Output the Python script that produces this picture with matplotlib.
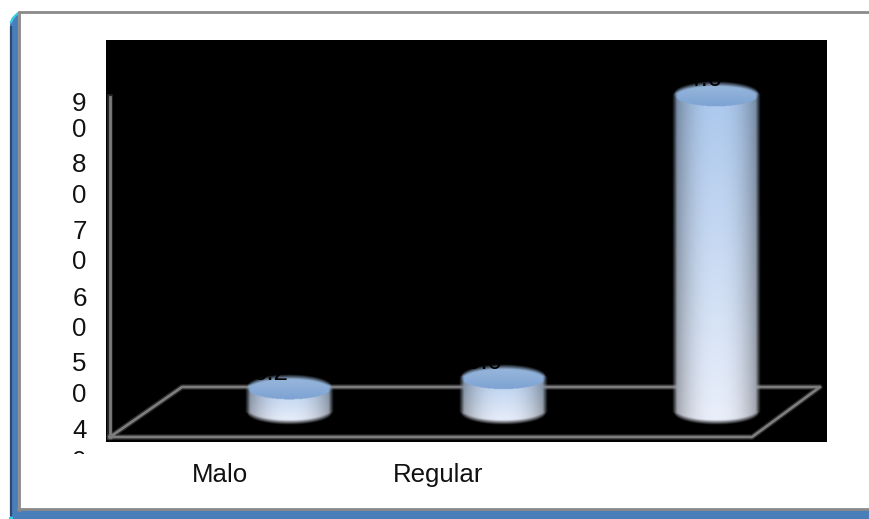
import numpy as np
import matplotlib
matplotlib.use("Agg")
import matplotlib.pyplot as plt
from matplotlib.patches import Rectangle, Polygon

plt.rcParams['font.family'] = ['Liberation Sans', 'DejaVu Sans']

# --- Chart values ---
categories = ["Malo", "Regular", ""]
values = [6.2, 9.0, 84.0]
value_labels = ["6.2", "9.0", "84.0"]
y_tick_labels = ["90", "80", "70", "60", "50", "40"]

# --- Layout (pixels, origin top left) ---
W, H = 870, 519
BOX_L, BOX_R, BOX_T, BOX_B = 106, 827, 40, 442
X0, X_STEP = 290, 213.5     # pixel centre of first cylinder, spacing
BASE_Y, Y_SCALE = 412, 3.77 # pixel row of value 0, pixels per unit
HALF_W = 42.5
RY = 11.5
BLUE = "#4a7ebb"
GREY = "#8a8a8a"
FLOOR = "#7c7c7c"
FONT_SIZE = 18.6
digit_rows = [(101.7, 128), (163, 194), (230, 260), (296.7, 326.7), (362, 393), (429, 460)]
category_x = [220, 438, 0]

fig = plt.figure(figsize=(W / 100, H / 100), dpi=100, facecolor="white")

# Whole page axes in pixels, holds the frame and the labels outside the plot
page = fig.add_axes([0, 0, 1, 1], zorder=0)
page.set_xlim(0, W)
page.set_ylim(H, 0)
page.axis("off")

page.add_patch(Polygon([(10, 519), (10, 24), (12, 18), (18, 12), (18, 510), (870, 510), (870, 519)],
                       closed=True, fc=BLUE, ec="none"))
page.plot([10.8, 10.8], [26, 516], color="#2b4a70", lw=1.6, solid_capstyle="butt")
page.plot([11, 13, 17], [22, 18, 14], color="#35d0e8", lw=1.6)
page.plot([19, 19, 870], [510, 12, 12], color=GREY, lw=2, solid_joinstyle="miter")
page.plot([18, 870], [509, 509], color=GREY, lw=2)
page.plot([10, 12], [518, 518], color="#35d0e8", lw=1.5)

# Wrapped tick labels, one digit per row, cut off below the last full line
clip = Rectangle((0, 0), W, 453.5, transform=page.transData)
for label, rows in zip(y_tick_labels, digit_rows):
    for digit, row in zip(label, rows):
        t = page.text(79.5, row + 9.3, digit, ha="center", va="baseline",
                      fontsize=FONT_SIZE, color="#111111")
        t.set_clip_on(True)
        t.set_clip_path(clip)

for name, px in zip(categories, category_x):
    if name:
        page.text(px, 482, name, ha="center", va="baseline", fontsize=FONT_SIZE, color="#111111")

# Black plot area, scaled so data units land on the cylinder rows
ax = fig.add_axes([BOX_L / W, 1 - BOX_B / H, (BOX_R - BOX_L) / W, (BOX_B - BOX_T) / H],
                  zorder=1, facecolor="black")
ax.set_xticks([])
ax.set_yticks([])
for spine in ax.spines.values():
    spine.set_visible(False)


def floor_line(xs, ys):
    ax.plot(xs, ys, color=FLOOR, lw=4, alpha=0.3, transform=page.transData, zorder=1)
    ax.plot(xs, ys, color=FLOOR, lw=2, transform=page.transData, zorder=1)


# Wall and floor
floor_line([110, 110], [97, 437])
floor_line([110, 752, 820, 182, 110], [437, 437, 387, 387, 437])


def mix(a, b, t):
    a = np.array(matplotlib.colors.to_rgb(a))
    b = np.array(matplotlib.colors.to_rgb(b))
    return a + (b - a) * t[..., None]


def draw_cylinder(x, value):
    hw = HALF_W / X_STEP
    ry = RY / Y_SCALE
    ny = int((value + 2 * ry) * Y_SCALE * 2) + 8
    nx = int(HALF_W * 4) + 8
    pad_x = 3 / X_STEP
    pad_y = 3 / Y_SCALE
    xs = np.linspace(x - hw - pad_x, x + hw + pad_x, nx)
    ys = np.linspace(-ry - pad_y, value + ry + pad_y, ny)
    X, Y = np.meshgrid(xs, ys)
    u = (X - x) / hw
    e = np.sqrt(np.clip(1 - u ** 2, 0, 1))

    # Body shading: pale at the foot, bluer towards the top, darker at the sides
    v = np.clip((Y + ry) / (value + 2 * ry), 0, 1)
    rgb = mix("#eaeffa", "#a8c6ec", v)
    rgb = rgb * (1 - 0.36 * np.abs(np.clip(u, -1, 1))[..., None] ** 2.4)

    # Top face
    in_top = u ** 2 + ((Y - value) / ry) ** 2 < 1
    top = mix("#7da3d3", "#9ab8dc", np.clip((Y - value) / ry * 0.5 + 0.5, 0, 1))
    rgb[in_top] = top[in_top]

    # Soft outline
    dist = np.minimum.reduce([(1 - np.abs(u)) * HALF_W,
                              (value + ry * e - Y) * Y_SCALE,
                              (Y + ry * e) * Y_SCALE])
    alpha = np.clip((dist + 2) / 5, 0, 1)
    rgba = np.dstack([np.clip(rgb, 0, 1), alpha])
    ax.imshow(rgba, extent=(xs[0], xs[-1], ys[0], ys[-1]), origin="lower",
              aspect="auto", zorder=3, interpolation="bilinear")


positions = np.arange(len(values))
for pos, val, text in zip(positions, values, value_labels):
    draw_cylinder(pos, val)
    # Data labels are black, so only the part over the cap shows
    ax.annotate(text, xy=(pos, val), xytext=(-13.7, 6.5), textcoords="offset points",
                ha="center", va="baseline", fontsize=FONT_SIZE, color="black", zorder=4)

ax.set_xlim((BOX_L - X0) / X_STEP, (BOX_R - X0) / X_STEP)
ax.set_ylim((BASE_Y - BOX_B) / Y_SCALE, (BASE_Y - BOX_T) / Y_SCALE)

fig.savefig("out.png", dpi=100, facecolor="white")
